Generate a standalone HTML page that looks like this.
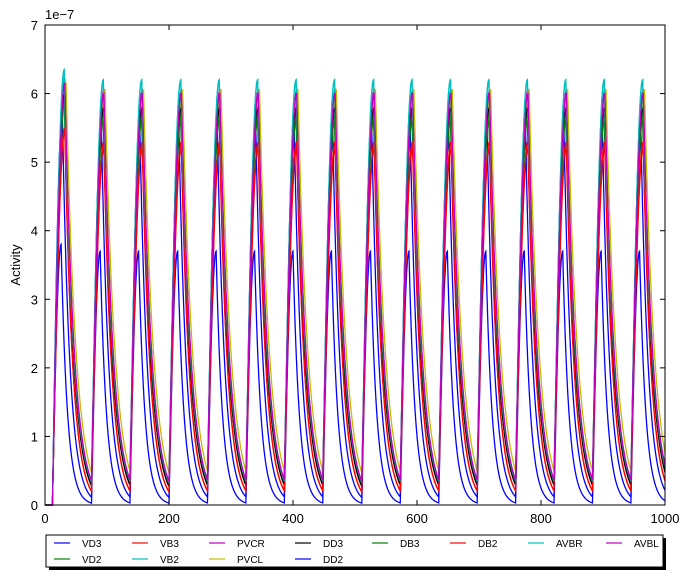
<!DOCTYPE html>
<html><head><meta charset="utf-8"><style>
body{margin:0;background:#fff;font-family:"Liberation Sans",sans-serif;}
svg text{font-family:"Liberation Sans",sans-serif;}
</style></head><body>
<svg id="chart" width="692" height="579" xmlns="http://www.w3.org/2000/svg">
<rect width="692" height="579" fill="#fff"/>
<g id="series"></g>
<g id="axes"></g>
<text x="45" y="19" font-size="13">1e−7</text>
<text transform="translate(20,265) rotate(-90)" text-anchor="middle" font-size="13">Activity</text>
<text x="355" y="545" text-anchor="middle" font-size="13">Time (ms)</text>
<g id="legend"></g>
</svg>
<script>
const seriesNames=["VD3","VD2","VB3","VB2","PVCR","PVCL","DD3","DD2","DB3","DB2","AVBR","AVBL"];
const seriesColors=["#0000ff","#007f00","#ff0000","#00bfbf","#bf00bf","#bfbf00","#000000","#0000ff","#007f00","#ff0000","#00bfbf","#bf00bf"];
const peakValues=[3.7,5.6,5.2,6.2,6.05,6.05,5.8,5.5,5.7,5.3,6.2,6.0];
const firstPeakValues=[3.8,5.9,5.45,6.35,6.2,6.15,6.0,5.7,5.9,5.5,6.3,6.15];
const peakDelays=[14,19,20,19,20,22,20,16,20,20,19,20];
const decayTaus=[10,15,13,15,15,16,14,12,15,13,15,15];
const cycleOnsets=[12,75,137,200,262,324,386,448,511,573,635,697,759,821,883,945];
const xTicks=[0,200,400,600,800,1000];
const yTicks=[0,1,2,3,4,5,6,7];
const L=45,R=665,T=25,B=505;
const xs=t=>L+(t/1000)*(R-L);
const ys=v=>B-(v/7)*(B-T);
const NS="http://www.w3.org/2000/svg";
const sg=document.getElementById('series');
seriesNames.forEach((nm,i)=>{
  let pts=[];
  for(let t=0;t<=1000;t+=0.5){
    let v=0;
    let k=-1;
    for(let j=0;j<cycleOnsets.length;j++) if(t>=cycleOnsets[j]) k=j;
    if(k>=0){
      const s=t-cycleOnsets[k];
      const pk=k===0?firstPeakValues[i]:peakValues[i];
      let base=0;
      if(k>0){const ps=cycleOnsets[k]-cycleOnsets[k-1]-peakDelays[i];const ppk=k===1?firstPeakValues[i]:peakValues[i];base=ppk*Math.exp(-ps/decayTaus[i]);}
      if(s<peakDelays[i]){const f=s/peakDelays[i];v=base+(pk-base)*Math.sin(f*Math.PI/2);}
      else v=pk*Math.exp(-(s-peakDelays[i])/decayTaus[i]);
    }
    pts.push(xs(t).toFixed(2)+','+ys(v).toFixed(2));
  }
  const p=document.createElementNS(NS,'polyline');
  p.setAttribute('points',pts.join(' '));
  p.setAttribute('fill','none');p.setAttribute('stroke',seriesColors[i]);p.setAttribute('stroke-width','1.3');
  
  
  sg.appendChild(p);
});
const ax=document.getElementById('axes');
function el(tag,attrs,txt){const e=document.createElementNS(NS,tag);for(const k in attrs)e.setAttribute(k,attrs[k]);if(txt!==undefined)e.textContent=txt;ax.appendChild(e);return e;}
const frame=el('rect',{x:L,y:T,width:R-L,height:B-T,fill:'none',stroke:'#000','stroke-width':1});


xTicks.forEach(v=>{const x=xs(v);
  el('line',{x1:x,x2:x,y1:B,y2:B-5,stroke:'#000'});el('line',{x1:x,x2:x,y1:T,y2:T+5,stroke:'#000'});
  const t=el('text',{x:x,y:B+18,'text-anchor':'middle','font-size':13},v);
  
  
});
yTicks.forEach(v=>{const y=ys(v);
  el('line',{x1:L,x2:L+5,y1:y,y2:y,stroke:'#000'});el('line',{x1:R,x2:R-5,y1:y,y2:y,stroke:'#000'});
  const t=el('text',{x:L-7,y:y+5,'text-anchor':'end','font-size':13},v);
  
  
});
const lg=document.getElementById('legend');
function lel(tag,attrs,txt){const e=document.createElementNS(NS,tag);for(const k in attrs)e.setAttribute(k,attrs[k]);if(txt!==undefined)e.textContent=txt;lg.appendChild(e);return e;}
lel('rect',{x:49,y:538,width:617,height:32,fill:'#000'});
lel('rect',{x:46,y:535,width:617,height:32,fill:'#fff',stroke:'#000','stroke-width':1});
const colX=[54,132,209,295,372,450,528,606];
seriesNames.forEach((nm,i)=>{
  let c,r;
  if(i<8){c=Math.floor(i/2);r=i%2;} else {c=4+(i-8);r=0;}
  const x=colX[c],y=r===0?543:559;
  lel('line',{x1:x,x2:x+16,y1:y,y2:y,stroke:seriesColors[i],'stroke-width':1.2});
  const t=lel('text',{x:x+28,y:y+4,'font-size':10},nm);
  
  
});
</script>
</body></html>
